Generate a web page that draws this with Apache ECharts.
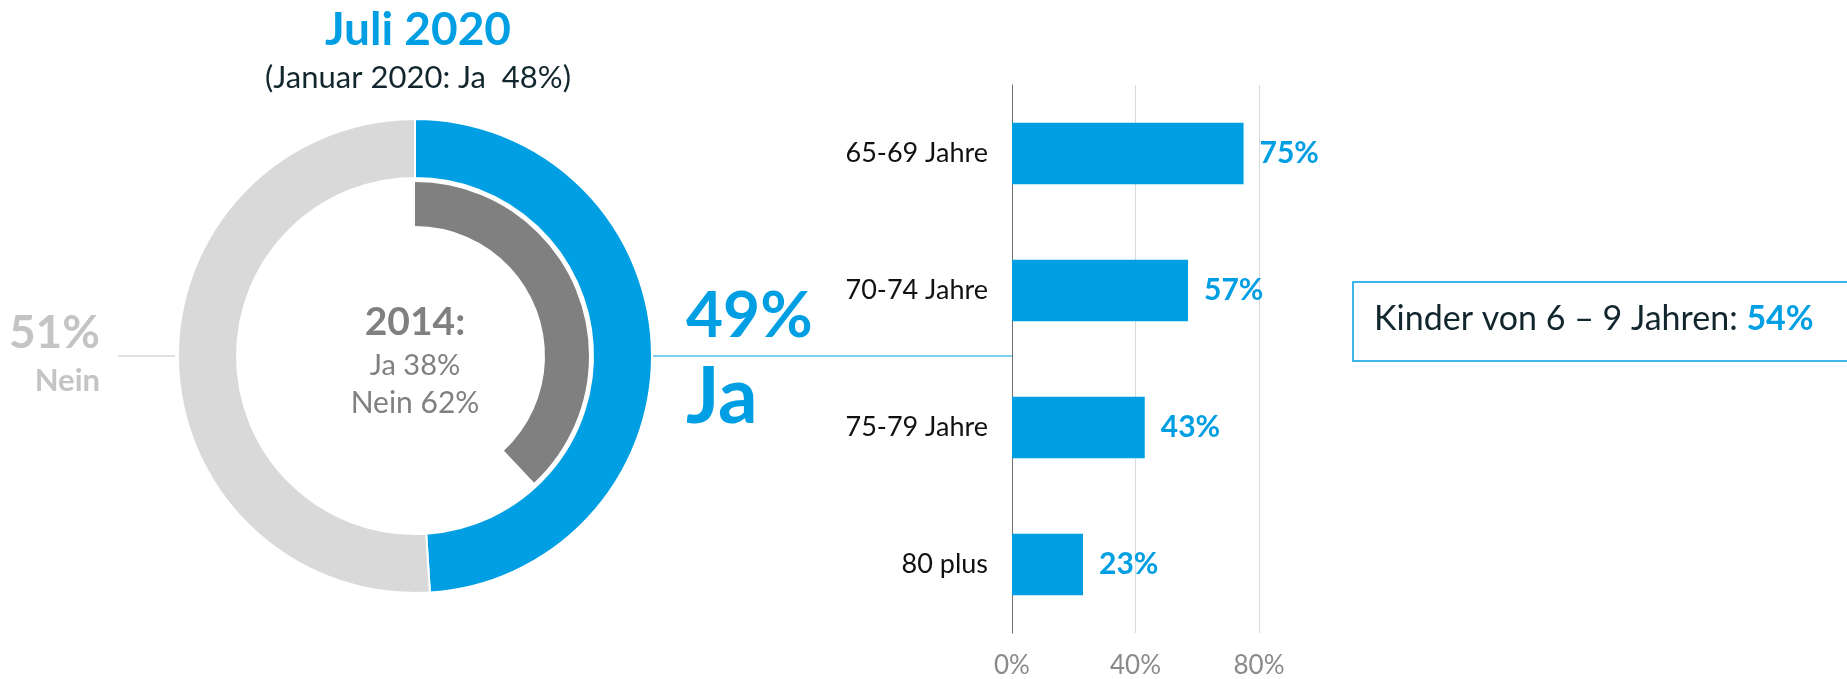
<!DOCTYPE html>
<html><head><meta charset="utf-8">
<script src="https://cdn.jsdelivr.net/npm/echarts@6/dist/echarts.min.js"></script>
<style>html,body{margin:0;padding:0;background:#fff}#c{width:1847px;height:679px}</style>
</head><body><div id="c"></div>
<script>
// Data
const ageCategories = ['65-69 Jahre', '70-74 Jahre', '75-79 Jahre', '80 plus'];
const ageValues = [75, 57, 43, 23];
const xTicks = [0, 40, 80];
const july2020 = { ja: 49, nein: 51 };
const jan2020Ja = 48;
const y2014 = { ja: 38, nein: 62 };
const kinderValue = 54;

const BLUE = '#009fe3';
const FONT = 'Lato';
const DARK = '#12262e';

const chart = echarts.init(document.getElementById('c'));
const cx = 415, cy = 356;

chart.setOption({
  animation: false,
  textStyle: { fontFamily: FONT },
  grid: { left: 1012, top: 85, width: 247, height: 551.5 },
  xAxis: {
    type: 'value', min: xTicks[0], max: xTicks[xTicks.length - 1], interval: xTicks[1] - xTicks[0],
    axisLine: { show: false }, axisTick: { show: false },
    splitLine: { lineStyle: { color: '#d9d9d9', width: 1 } },
    axisLabel: { formatter: '{value}%', color: '#8a8a8a', fontSize: 26, fontFamily: FONT, margin: 20 }
  },
  yAxis: {
    type: 'category', inverse: true, data: ageCategories,
    axisLine: { show: true, lineStyle: { color: '#6e6e6e', width: 1 } },
    axisTick: { show: false },
    axisLabel: { color: '#111', fontSize: 27, fontFamily: FONT, margin: 24 }
  },
  series: [
    {
      type: 'bar', data: ageValues, barWidth: '45%',
      itemStyle: { color: BLUE },
      label: { show: true, position: 'right', distance: 16, formatter: '{c}%', color: BLUE, fontWeight: 'bold', fontSize: 30, fontFamily: FONT }
    },
    {
      type: 'pie', center: [cx, cy], radius: [178, 237], startAngle: 90, clockwise: true,
      label: { show: false }, labelLine: { show: false }, silent: true,
      itemStyle: { borderColor: '#fff', borderWidth: 2 },
      data: [
        { value: july2020.ja, name: 'Ja', itemStyle: { color: BLUE } },
        { value: july2020.nein, name: 'Nein', itemStyle: { color: '#d9d9d9' } }
      ]
    },
    {
      type: 'pie', center: [cx, cy], radius: [130, 174], startAngle: 90, clockwise: true,
      label: { show: false }, labelLine: { show: false }, silent: true,
      data: [
        { value: y2014.ja, name: 'Ja 2014', itemStyle: { color: '#808080' } },
        { value: y2014.nein, name: 'Nein 2014', itemStyle: { color: 'rgba(0,0,0,0)' } }
      ]
    }
  ],
  graphic: [
    { type: 'line', shape: { x1: cx + 237, y1: cy, x2: 1012, y2: cy }, style: { stroke: BLUE, lineWidth: 1.2 } },
    { type: 'line', shape: { x1: 118, y1: cy, x2: cx - 240, y2: cy }, style: { stroke: '#b8c4cc', lineWidth: 1.2 } },
    { type: 'text', x: 418, y: 30, style: { text: 'Juli 2020', fill: BLUE, font: 'bold 46px ' + FONT, textAlign: 'center', textVerticalAlign: 'middle' } },
    { type: 'text', x: 418, y: 78, style: { text: '(Januar 2020: Ja  ' + jan2020Ja + '%)', fill: DARK, font: '31px ' + FONT, textAlign: 'center', textVerticalAlign: 'middle' } },
    { type: 'text', x: cx, y: 322, style: { text: '2014:', fill: '#808080', font: 'bold 39px ' + FONT, textAlign: 'center', textVerticalAlign: 'middle' } },
    { type: 'text', x: cx, y: 366, style: { text: 'Ja ' + y2014.ja + '%', fill: '#808080', font: '29px ' + FONT, textAlign: 'center', textVerticalAlign: 'middle' } },
    { type: 'text', x: cx, y: 403, style: { text: 'Nein ' + y2014.nein + '%', fill: '#808080', font: '30px ' + FONT, textAlign: 'center', textVerticalAlign: 'middle' } },
    { type: 'text', x: 100, y: 333, style: { text: july2020.nein + '%', fill: '#c4c4c4', font: 'bold 46px ' + FONT, textAlign: 'right', textVerticalAlign: 'middle' } },
    { type: 'text', x: 100, y: 381, style: { text: 'Nein', fill: '#c4c4c4', font: 'bold 31px ' + FONT, textAlign: 'right', textVerticalAlign: 'middle' } },
    { type: 'text', x: 686, y: 316, style: { text: july2020.ja + '%', fill: BLUE, font: 'bold 64px ' + FONT, textAlign: 'left', textVerticalAlign: 'middle' } },
    { type: 'text', x: 686, y: 398, style: { text: 'Ja', fill: BLUE, font: 'bold 78px ' + FONT, textAlign: 'left', textVerticalAlign: 'middle' } },
    { type: 'rect', shape: { x: 1353, y: 282, width: 520, height: 79 }, style: { fill: '#fff', stroke: BLUE, lineWidth: 1.5 } },
    { type: 'text', x: 1374, y: 319, style: {
        text: '{a|Kinder von 6 – 9 Jahren: }{b|' + kinderValue + '%}', textVerticalAlign: 'middle',
        rich: { a: { fontSize: 34, fontFamily: FONT, fill: DARK, color: DARK }, b: { fontSize: 34, fontWeight: 'bold', fontFamily: FONT, fill: BLUE, color: BLUE } }
      } }
  ]
});
</script></body></html>
